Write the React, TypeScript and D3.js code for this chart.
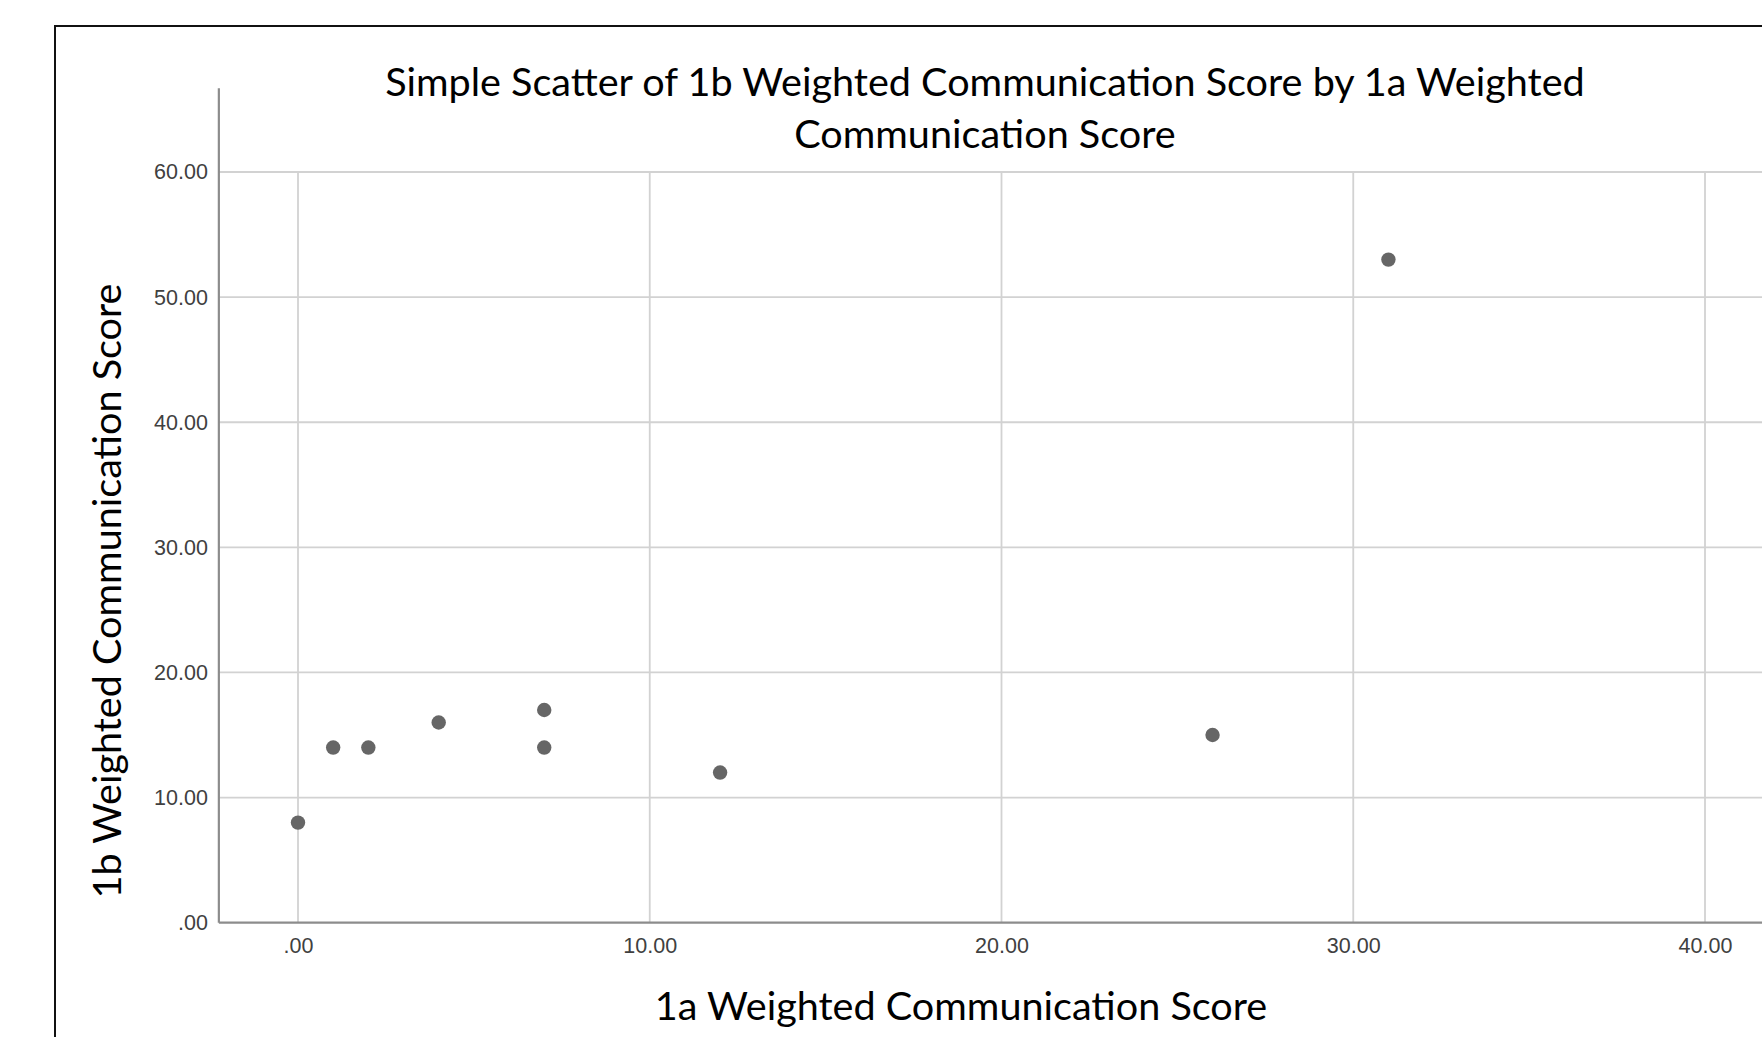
import React, { useEffect, useRef } from 'react';
import * as d3 from 'd3';

// values
const scoreA = [0, 1, 2, 4, 7, 7, 12, 26, 31];
const scoreB = [8, 14, 14, 16, 17, 14, 12, 15, 53];
const xTicks = [0, 10, 20, 30, 40];
const yTicks = [0, 10, 20, 30, 40, 50, 60];

const titleLines = [
  'Simple Scatter of 1b Weighted Communication Score by 1a Weighted',
  'Communication Score',
];
const xTitle = '1a Weighted Communication Score';
const yTitle = '1b Weighted Communication Score';

const W = 1762;
const H = 1037;

const fmt = (v: number) => d3.format('.2f')(v).replace(/^0\./, '.');

const App = () => {
  const ref = useRef<SVGSVGElement>(null);

  useEffect(() => {
    const svg = d3.select(ref.current);
    svg.selectAll('*').remove();

    const x = d3.scaleLinear().domain([0, 40]).range([298, 1705]);
    const y = d3.scaleLinear().domain([0, 60]).range([922.7, 172]);

    const left = x(-2.25);
    const right = W + 20;
    const top = y(66.7);

    svg.append('rect').attr('width', W).attr('height', H).attr('fill', '#fff');

    // outer frame (cropped on right/bottom)
    svg.append('path')
      .attr('d', `M55,${H + 5}V26H${W + 5}`)
      .attr('fill', 'none')
      .attr('stroke', '#111')
      .attr('stroke-width', 2);

    // grid
    const grid = svg.append('g').attr('stroke', '#d2d2d2').attr('stroke-width', 1.8);
    grid.selectAll('.hg')
      .data(yTicks.filter(d => d > 0))
      .enter()
      .append('line')
      .attr('x1', left)
      .attr('x2', right)
      .attr('y1', d => y(d))
      .attr('y2', d => y(d));
    grid.selectAll('.vg')
      .data(xTicks)
      .enter()
      .append('line')
      .attr('x1', d => x(d))
      .attr('x2', d => x(d))
      .attr('y1', y(60))
      .attr('y2', y(0));

    // axes
    const xAxis = svg.append('g').attr('transform', `translate(0,${y(0)})`);
    xAxis.call(d3.axisBottom(x).tickValues(xTicks).tickFormat(d => fmt(+d)).tickSize(0).tickPadding(15));
    xAxis.select('.domain').remove();
    xAxis.append('line')
      .attr('x1', left).attr('x2', right)
      .attr('stroke', '#8c8c8c').attr('stroke-width', 2.2);

    const yAxis = svg.append('g').attr('transform', `translate(${left},0)`);
    yAxis.call(d3.axisLeft(y).tickValues(yTicks).tickFormat(d => fmt(+d)).tickSize(0).tickPadding(11));
    yAxis.select('.domain').remove();
    yAxis.append('line')
      .attr('y1', top).attr('y2', y(0))
      .attr('stroke', '#8c8c8c').attr('stroke-width', 2.2);

    svg.selectAll('.tick text')
      .attr('font-family', '"Liberation Sans", Arial, sans-serif')
      .attr('font-size', 21.5)
      .attr('fill', '#404040');

    // points
    svg.append('g')
      .selectAll('circle')
      .data(scoreA.map((a, i) => [a, scoreB[i]]))
      .enter()
      .append('circle')
      .attr('cx', d => x(d[0]))
      .attr('cy', d => y(d[1]))
      .attr('r', 7.2)
      .attr('fill', '#666');

    const font = 'Lato, "Open Sans", sans-serif';
    const fs = 39.6;

    svg.append('g')
      .selectAll('text')
      .data(titleLines)
      .enter()
      .append('text')
      .attr('x', 985)
      .attr('y', (d, i) => 96 + i * 52)
      .attr('text-anchor', 'middle')
      .attr('font-family', font)
      .attr('font-size', fs)
      .attr('fill', '#000')
      .text(d => d);

    svg.append('text')
      .attr('x', 961)
      .attr('y', 1020)
      .attr('text-anchor', 'middle')
      .attr('font-family', font)
      .attr('font-size', fs)
      .attr('fill', '#000')
      .text(xTitle);

    svg.append('text')
      .attr('transform', `translate(121,591) rotate(-90)`)
      .attr('text-anchor', 'middle')
      .attr('font-family', font)
      .attr('font-size', fs)
      .attr('fill', '#000')
      .text(yTitle);
  }, []);

  return (
    <div style={{ position: 'absolute', left: 0, top: 0 }}>
      <svg ref={ref} width={W} height={H} style={{ display: 'block' }}></svg>
    </div>
  );
};

export default App;
